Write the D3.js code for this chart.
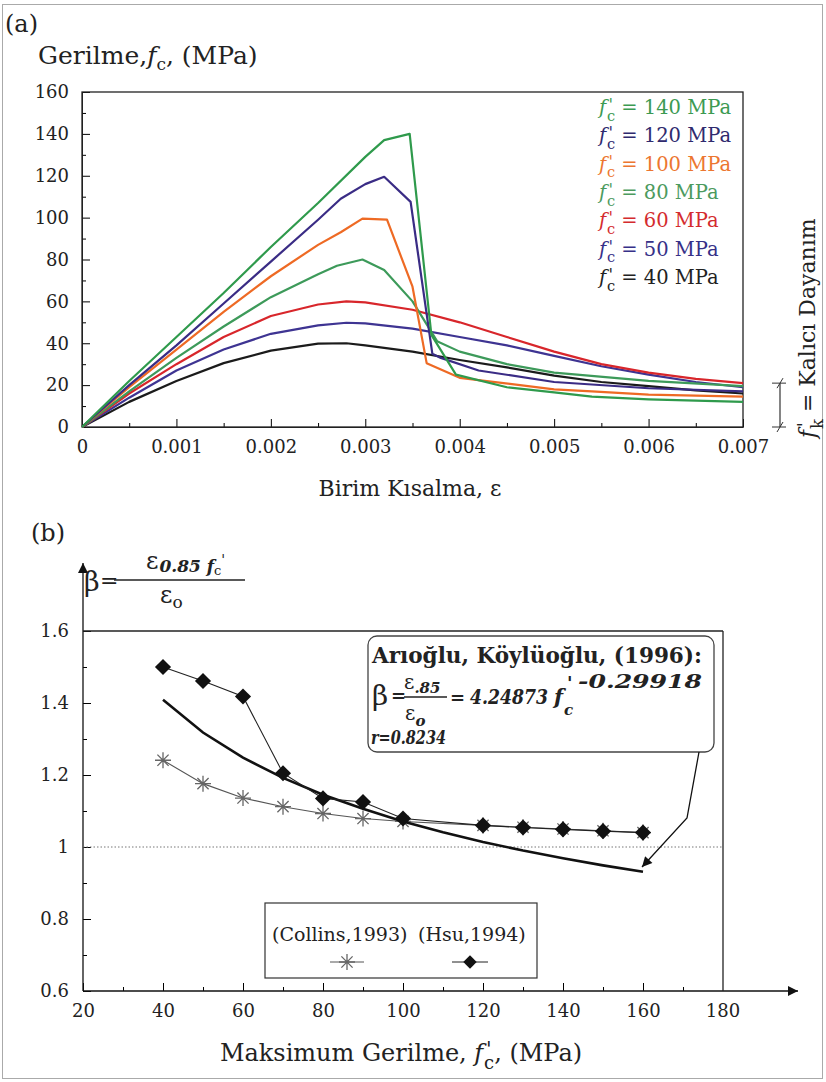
<!DOCTYPE html>
<html lang="tr">
<head>
<meta charset="utf-8" />
<script src="https://cdn.jsdelivr.net/npm/d3@7/dist/d3.min.js"></script>
<title>Gerilme - Birim Kısalma</title>
<style>
  body { margin: 0; background: #fff; }
  svg text { font-family: "DejaVu Serif", serif; fill: #222; }
  .tick text { font-size: 18px; }
  .domain { stroke: #222; }
</style>
</head>
<body>
<div id="container"></div>
<script>
// ---- panel (a) data: [strain, stress MPa]
const strainTicks = [0, 0.001, 0.002, 0.003, 0.004, 0.005, 0.006, 0.007];
const strainMinor = [0.0005, 0.0015, 0.0025, 0.0035, 0.0045, 0.0055, 0.0065];
const stressTicks = [0, 20, 40, 60, 80, 100, 120, 140, 160];
const stressMinor = [10, 30, 50, 70, 90, 110, 130, 150];
const strengths = [140, 120, 100, 80, 60, 50, 40];

const curve140 = [[0,0],[0.0005,22],[0.001,43],[0.0015,64],[0.002,86],[0.0025,107],[0.003,129],[0.0032,137],[0.00347,140],[0.0037,44],[0.00396,25],[0.0045,19],[0.005,16.5],[0.0054,14.5],[0.006,13.2],[0.007,12]];
const curve120 = [[0,0],[0.0005,20],[0.001,39],[0.0015,59],[0.002,79],[0.0025,99],[0.00274,109],[0.003,116],[0.0032,119.5],[0.00348,107.5],[0.00371,35],[0.0038,33],[0.0042,27],[0.005,21.5],[0.006,18.5],[0.007,17]];
const curve100 = [[0,0],[0.0005,19],[0.001,37],[0.0015,55],[0.002,72],[0.0025,87],[0.00274,93],[0.00297,99.5],[0.00323,99],[0.0035,67],[0.00365,30.5],[0.004,23.5],[0.005,18],[0.0054,17],[0.006,15.5],[0.007,14.5]];
const curve80 = [[0,0],[0.0005,17],[0.001,33],[0.0015,48],[0.002,62],[0.0025,73],[0.0027,77],[0.00297,80],[0.0032,75],[0.0035,60],[0.00376,41],[0.004,36],[0.0045,30],[0.005,26],[0.006,22],[0.007,19.5]];
const curve60 = [[0,0],[0.0005,16],[0.001,30],[0.0015,43],[0.002,53],[0.0025,58.5],[0.0028,60],[0.003,59.5],[0.0035,56],[0.004,50],[0.0045,43],[0.005,36],[0.0055,30],[0.006,26],[0.0065,23],[0.007,21]];
const curve50 = [[0,0],[0.0005,14],[0.001,27],[0.0015,37],[0.002,44.5],[0.0025,48.5],[0.0028,49.8],[0.003,49.5],[0.0035,47],[0.004,43],[0.0045,39],[0.005,34],[0.0055,29],[0.006,25],[0.0065,21.5],[0.007,19]];
const curve40 = [[0,0],[0.0005,12],[0.001,22],[0.0015,30.5],[0.002,36.5],[0.0025,39.8],[0.0028,40],[0.003,39],[0.0035,36],[0.004,32],[0.0045,28.5],[0.005,24.5],[0.0055,21.5],[0.006,19.5],[0.0065,17.5],[0.007,16]];

// ---- panel (b) data
const fcTicks = [20, 40, 60, 80, 100, 120, 140, 160, 180];
const fcMinor = [30, 50, 70, 90, 110, 130, 150, 170];
const betaTicks = [0.6, 0.8, 1, 1.2, 1.4, 1.6];
const betaMinor = [0.7, 0.9, 1.1, 1.3, 1.5];
const fcValues = [40, 50, 60, 70, 80, 90, 100, 120, 130, 140, 150, 160];
const collinsBeta = [1.241, 1.176, 1.136, 1.112, 1.093, 1.079, 1.071, 1.06, 1.055, 1.05, 1.045, 1.04];
const hsuBeta = [1.50, 1.461, 1.418, 1.205, 1.135, 1.125, 1.079, 1.06, 1.054, 1.049, 1.044, 1.04];
const fitFc = [40, 50, 60, 70, 80, 90, 100, 110, 120, 130, 140, 150, 160];
const fitBeta = [1.409, 1.318, 1.248, 1.192, 1.145, 1.106, 1.071, 1.041, 1.014, 0.990, 0.969, 0.949, 0.931];

const curves = [curve140, curve120, curve100, curve80, curve60, curve50, curve40];
const lineColors = ["#2f9a4c", "#3a2c85", "#ee6a24", "#3d9a5a", "#d8262b", "#3e3492", "#1b1b1b"];
const textColors = ["#3c9a52", "#2f2a6e", "#ec7630", "#4c9a5e", "#d42b2e", "#363088", "#222"];

const width = 826, height = 1082;
const svg = d3.select("#container").append("svg").attr("width", width).attr("height", height);

svg.append("rect").attr("x", 2.5).attr("y", 4.5).attr("width", 820).attr("height", 1074)
  .attr("fill", "none").attr("stroke", "#aaa");

const defs = svg.append("defs");
defs.append("marker").attr("id", "arr").attr("viewBox", "0 0 10 10").attr("refX", 10).attr("refY", 5)
  .attr("markerWidth", 14).attr("markerHeight", 10).attr("markerUnits", "userSpaceOnUse").attr("orient", "auto")
  .append("path").attr("d", "M0,0L10,5L0,10Z").attr("fill", "#111");

// f' with subscript under the prime, returns dy that restores the baseline
function primeSub(t, size, sub) {
  t.append("tspan").attr("font-style", "italic").text("f");
  t.append("tspan").attr("font-size", size * 0.85).attr("dx", size * 0.12).attr("dy", -size * 0.2).text("'");
  t.append("tspan").attr("font-size", size * 0.75).attr("dx", -size * 0.32).attr("dy", size * 0.55).text(sub);
  return -size * 0.35;
}

// ================= panel (a)
const xA = d3.scaleLinear().domain([0, 0.007]).range([82, 743]);
const yA = d3.scaleLinear().domain([0, 160]).range([427, 92]);
const gA = svg.append("g");

svg.append("text").attr("x", 5).attr("y", 32).attr("font-size", 24).text("(a)");
const ta = svg.append("text").attr("x", 38).attr("y", 64).attr("font-size", 25);
ta.append("tspan").text("Gerilme,");
ta.append("tspan").attr("font-style", "italic").text("f");
ta.append("tspan").attr("font-size", 17).attr("dy", 6).text("c");
ta.append("tspan").attr("dy", -6).text(", (MPa)");

gA.append("g").attr("transform", "translate(0,427)")
  .call(d3.axisBottom(xA).tickValues(strainTicks).tickSize(-8).tickSizeOuter(0).tickPadding(13)
    .tickFormat(d => d === 0 ? "0" : d3.format(".3f")(d)));
gA.append("g").attr("transform", "translate(0,427)")
  .call(d3.axisBottom(xA).tickValues(strainMinor).tickSize(-4).tickFormat(""))
  .select(".domain").remove();
gA.append("g").attr("transform", "translate(82,0)")
  .call(d3.axisLeft(yA).tickValues(stressTicks).tickSize(-8).tickSizeOuter(0).tickPadding(13));
gA.append("g").attr("transform", "translate(82,0)")
  .call(d3.axisLeft(yA).tickValues(stressMinor).tickSize(-4).tickFormat(""))
  .select(".domain").remove();
gA.append("rect").attr("x", xA(0)).attr("y", yA(160)).attr("width", xA(0.007) - xA(0))
  .attr("height", yA(0) - yA(160)).attr("fill", "none").attr("stroke", "#222").attr("stroke-width", 1.3);

const lineA = d3.line().x(d => xA(d[0])).y(d => yA(d[1]));
gA.selectAll("path.curve").data(curves.slice().reverse()).join("path").attr("class", "curve")
  .attr("d", lineA).attr("fill", "none")
  .attr("stroke", (d, i) => lineColors[curves.length - 1 - i]).attr("stroke-width", 2.2)
  .attr("stroke-linejoin", "round");

strengths.forEach((s, i) => {
  const t = gA.append("text").attr("x", 599).attr("y", 114 + i * 28.3).attr("font-size", 19.5)
    .style("fill", textColors[i]);
  const back = primeSub(t, 19.5, "c");
  t.append("tspan").attr("dy", back).text(" = " + s + " MPa");
});

svg.append("text").attr("x", 410).attr("y", 496).attr("text-anchor", "middle").attr("font-size", 22)
  .text("Birim Kısalma, ε");

// residual strength marker
const rx = 780;
svg.append("line").attr("x1", rx).attr("x2", rx).attr("y1", yA(20) - 2).attr("y2", yA(0))
  .attr("stroke", "#333").attr("stroke-width", 1.2);
[yA(20) - 2, yA(0)].forEach(y => {
  svg.append("line").attr("x1", rx - 8).attr("x2", rx + 6).attr("y1", y).attr("y2", y).attr("stroke", "#333");
  svg.append("line").attr("x1", rx - 3).attr("x2", rx + 3).attr("y1", y + 5).attr("y2", y - 5).attr("stroke", "#333");
});
const tk = svg.append("text").attr("transform", "translate(815,438) rotate(-90)").attr("font-size", 22);
const backK = primeSub(tk, 22, "k");
tk.append("tspan").attr("dy", backK).text(" = Kalıcı Dayanım");

// ================= panel (b)
const xB = d3.scaleLinear().domain([20, 180]).range([83, 723]);
const yB = d3.scaleLinear().domain([0.6, 1.6]).range([991, 631]);
const gB = svg.append("g");

svg.append("text").attr("x", 31).attr("y", 541).attr("font-size", 24).text("(b)");

gB.append("g").attr("transform", "translate(0,991)")
  .call(d3.axisBottom(xB).tickValues(fcTicks.filter(d => d < 180)).tickSize(-8).tickSizeOuter(0).tickPadding(13))
  .select(".domain").remove();
gB.append("text").attr("x", xB(180)).attr("y", 1017).attr("text-anchor", "middle").attr("font-size", 18)
  .text(fcTicks[fcTicks.length - 1]);
gB.append("g").attr("transform", "translate(0,991)")
  .call(d3.axisBottom(xB).tickValues(fcMinor).tickSize(-4).tickFormat(""))
  .select(".domain").remove();
gB.append("g").attr("transform", "translate(83,0)")
  .call(d3.axisLeft(yB).tickValues(betaTicks).tickSize(-8).tickSizeOuter(0).tickPadding(14)
    .tickFormat(d => d === 1 ? "1" : d3.format(".1f")(d)))
  .select(".domain").remove();
gB.append("g").attr("transform", "translate(83,0)")
  .call(d3.axisLeft(yB).tickValues(betaMinor).tickSize(-4).tickFormat(""))
  .select(".domain").remove();

// axes with arrows
gB.append("line").attr("x1", 83).attr("x2", 83).attr("y1", 991).attr("y2", 563)
  .attr("stroke", "#111").attr("stroke-width", 1.3).attr("marker-end", "url(#arr)");
gB.append("line").attr("x1", 83).attr("x2", 798).attr("y1", 991).attr("y2", 991)
  .attr("stroke", "#111").attr("stroke-width", 1.3).attr("marker-end", "url(#arr)");
gB.append("line").attr("x1", 83).attr("x2", xB(180)).attr("y1", yB(1.6)).attr("y2", yB(1.6))
  .attr("stroke", "#222").attr("stroke-width", 1.3);
gB.append("line").attr("x1", xB(180)).attr("x2", xB(180)).attr("y1", yB(1.6)).attr("y2", yB(0.6))
  .attr("stroke", "#222").attr("stroke-width", 1.3);
gB.append("line").attr("x1", 83).attr("x2", xB(180)).attr("y1", yB(1)).attr("y2", yB(1))
  .attr("stroke", "#777").attr("stroke-dasharray", "1.5,2");

// y label  beta = eps_0.85fc / eps_o
svg.append("text").attr("x", 84).attr("y", 591).attr("font-size", 27).text("β");
svg.append("text").attr("x", 100).attr("y", 588).attr("font-size", 22).text("=");
svg.append("line").attr("x1", 114).attr("x2", 245).attr("y1", 580).attr("y2", 580).attr("stroke", "#222").attr("stroke-width", 1.3);
const num = svg.append("text").attr("x", 146).attr("y", 569).attr("font-size", 24);
num.append("tspan").text("ε");
num.append("tspan").attr("font-size", 17).attr("font-weight", "bold").attr("font-style", "italic").attr("dx", 1).attr("dy", 3).text("0.85 f");
num.append("tspan").attr("font-size", 13).attr("dy", 3).text("c");
num.append("tspan").attr("font-size", 14).attr("dy", -10).text("'");
const den = svg.append("text").attr("x", 160).attr("y", 603).attr("font-size", 24);
den.append("tspan").text("ε");
den.append("tspan").attr("font-size", 17).attr("dy", 5).text("o");

// fitted curve, Collins, Hsu
const lineB = d3.line().x(d => xB(d[0])).y(d => yB(d[1]));
const collins = fcValues.map((f, i) => [f, collinsBeta[i]]);
const hsu = fcValues.map((f, i) => [f, hsuBeta[i]]);
const fit = fitFc.map((f, i) => [f, fitBeta[i]]);

const star = r => `M${-r},0H${r}M0,${-r}V${r}M${-r * 0.7},${-r * 0.7}L${r * 0.7},${r * 0.7}M${-r * 0.7},${r * 0.7}L${r * 0.7},${-r * 0.7}`;
const diamond = d3.symbol(d3.symbolSquare, 130);

gB.append("path").datum(collins).attr("d", lineB).attr("fill", "none").attr("stroke", "#555").attr("stroke-width", 1.1);
gB.selectAll("path.star").data(collins).join("path").attr("class", "star")
  .attr("transform", d => `translate(${xB(d[0])},${yB(d[1])})`).attr("d", star(8))
  .attr("stroke", "#666").attr("stroke-width", 1.3).attr("fill", "none");
gB.append("path").datum(fit).attr("d", lineB).attr("fill", "none").attr("stroke", "#111").attr("stroke-width", 2.6);
gB.append("path").datum(hsu).attr("d", lineB).attr("fill", "none").attr("stroke", "#222").attr("stroke-width", 1.1);
gB.selectAll("path.dia").data(hsu).join("path").attr("class", "dia")
  .attr("transform", d => `translate(${xB(d[0])},${yB(d[1])}) rotate(45)`).attr("d", diamond)
  .attr("fill", "#111");

// annotation box
gB.append("rect").attr("x", 368).attr("y", 636).attr("width", 346).attr("height", 116).attr("rx", 9)
  .attr("fill", "#fff").attr("stroke", "#444").attr("stroke-width", 1.3);
gB.append("path").attr("d", "M699,752L687,818L642,867").attr("fill", "none").attr("stroke", "#111")
  .attr("stroke-width", 1.3).attr("marker-end", "url(#arr)");
gB.append("text").attr("x", 372).attr("y", 663).attr("font-size", 21.5).attr("font-weight", "bold")
  .attr("textLength", 330).attr("lengthAdjust", "spacingAndGlyphs")
  .text("Arıoğlu, Köylüoğlu, (1996):");
gB.append("text").attr("x", 372).attr("y", 705).attr("font-size", 28).text("β");
gB.append("text").attr("x", 391).attr("y", 702).attr("font-size", 18).attr("font-weight", "bold").text("=");
gB.append("line").attr("x1", 404).attr("x2", 447).attr("y1", 697).attr("y2", 697).attr("stroke", "#222").attr("stroke-width", 1.3);
const n2 = gB.append("text").attr("x", 404).attr("y", 689).attr("font-size", 20);
n2.append("tspan").text("ε");
n2.append("tspan").attr("font-size", 15).attr("font-weight", "bold").attr("font-style", "italic").attr("dy", 4).text(".85");
const d2 = gB.append("text").attr("x", 405).attr("y", 720).attr("font-size", 20);
d2.append("tspan").text("ε");
d2.append("tspan").attr("font-size", 15).attr("font-weight", "bold").attr("font-style", "italic").attr("dy", 6).text("o");
gB.append("text").attr("x", 450).attr("y", 704).attr("font-size", 18).attr("font-weight", "bold").text("=");
gB.append("text").attr("x", 470).attr("y", 704).attr("font-size", 20).attr("font-weight", "bold").attr("font-style", "italic")
  .attr("textLength", 78).attr("lengthAdjust", "spacingAndGlyphs").text("4.24873");
gB.append("text").attr("x", 554).attr("y", 704).attr("font-size", 21).attr("font-weight", "bold").attr("font-style", "italic").text("f");
gB.append("text").attr("x", 567).attr("y", 690).attr("font-size", 18).attr("font-weight", "bold").attr("font-style", "italic").text("'");
gB.append("text").attr("x", 578).attr("y", 688).attr("font-size", 18).attr("font-weight", "bold").attr("font-style", "italic")
  .attr("textLength", 124).attr("lengthAdjust", "spacingAndGlyphs").text("-0.29918");
gB.append("text").attr("x", 564).attr("y", 715).attr("font-size", 15).attr("font-weight", "bold").attr("font-style", "italic").text("c");
gB.append("text").attr("x", 371).attr("y", 744).attr("font-size", 19).attr("font-weight", "bold").attr("font-style", "italic")
  .attr("textLength", 75).attr("lengthAdjust", "spacingAndGlyphs").text("r=0.8234");

// legend
gB.append("rect").attr("x", 265).attr("y", 903).attr("width", 272).attr("height", 75)
  .attr("fill", "#fff").attr("stroke", "#333").attr("stroke-width", 1.2);
gB.append("text").attr("x", 272).attr("y", 941).attr("font-size", 19).text("(Collins,1993)");
gB.append("text").attr("x", 418).attr("y", 941).attr("font-size", 19).text("(Hsu,1994)");
gB.append("line").attr("x1", 330).attr("x2", 364).attr("y1", 962).attr("y2", 962).attr("stroke", "#555");
gB.append("path").attr("transform", "translate(347,962)").attr("d", star(8)).attr("stroke", "#666").attr("stroke-width", 1.3);
gB.append("line").attr("x1", 452).attr("x2", 488).attr("y1", 962).attr("y2", 962).attr("stroke", "#222");
gB.append("path").attr("transform", "translate(470,962) rotate(45)").attr("d", d3.symbol(d3.symbolSquare, 90)).attr("fill", "#111");

// x label (b)
const tb = svg.append("text").attr("x", 401).attr("y", 1061).attr("text-anchor", "middle").attr("font-size", 24);
tb.append("tspan").text("Maksimum Gerilme, ");
const backB = primeSub(tb, 24, "c");
tb.append("tspan").attr("dy", backB).text(", (MPa)");
</script>
</body>
</html>
